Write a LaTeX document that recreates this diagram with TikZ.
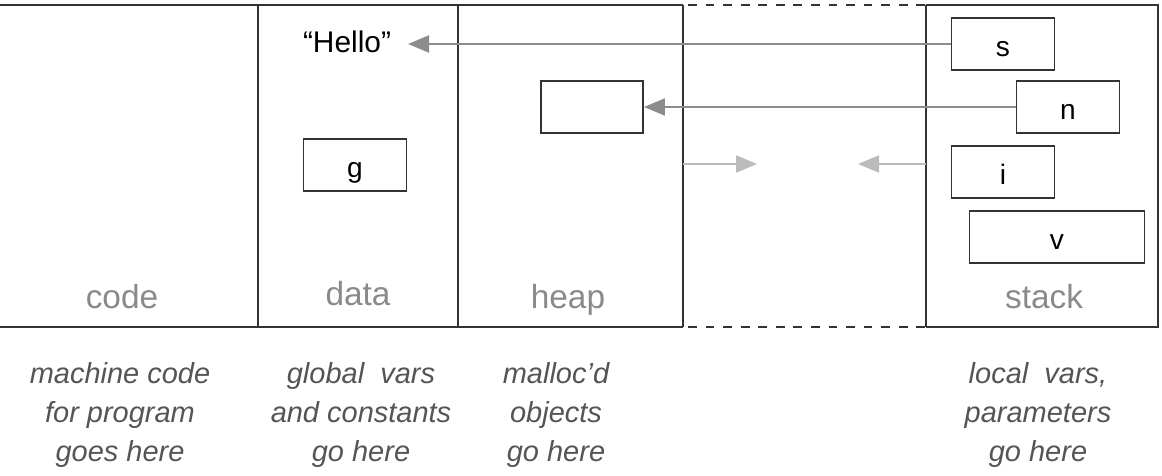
\documentclass[tikz,border=0pt]{standalone}
\usepackage{fontspec}
\setmainfont{Liberation Sans}
\usetikzlibrary{arrows.meta}
\definecolor{framegray}{HTML}{333333}
\definecolor{labelgray}{HTML}{8A8A8A}
\definecolor{ptrgray}{HTML}{8C8C8C}
\definecolor{growgray}{HTML}{BBBBBB}
\definecolor{notegray}{HTML}{555555}
\begin{document}
\begin{tikzpicture}[x=0.02cm,y=-0.02cm,
    frameline/.style={draw=framegray,line width=1.5pt},
    var/.style={draw=framegray,line width=1.1pt,minimum width=2.06cm,minimum height=1.04cm,text height=14.2pt,text depth=0pt,font=\fontsize{16}{19}\selectfont},
    seg/.style={text=labelgray,anchor=base,font=\fontsize{19}{22}\selectfont},
    note/.style={text=notegray,align=center,font=\fontsize{16.5}{22}\selectfont\itshape},
    ptr/.style={draw=ptrgray,line width=1.1pt,-{Triangle[length=0.42cm,width=0.34cm]}},
    growarrow/.style={draw=growgray,line width=1.1pt,-{Triangle[length=0.42cm,width=0.34cm]}}]
    \useasboundingbox (0,0) rectangle (1162,476);

    \draw[frameline] (0,5) -- (683,5);
    \draw[frameline] (0,327) -- (683,327);
    \draw[frameline,dash pattern=on 5pt off 5pt] (688,5) -- (926,5);
    \draw[frameline,dash pattern=on 5pt off 5pt] (688,327) -- (926,327);
    \draw[frameline] (926,5) -- (1158,5) -- (1158,327) -- (926,327);
    \draw[frameline] (258,5) -- (258,327);
    \draw[frameline] (458,5) -- (458,327);
    \draw[frameline] (683,5) -- (683,327);
    \draw[frameline] (926,5) -- (926,327);

    \node[seg] (code) at (122,308) {code};
    \node[seg] (data) at (358,305) {data};
    \node[seg] (heap) at (568,308) {heap};
    \node[seg] (stack) at (1044,308) {stack};

    \node[anchor=base,font=\fontsize{17}{20}\selectfont] (hello) at (347,53) {``Hello''};
    \node[var] (g) at (355,165) {g};
    \node[var,minimum width=2.04cm] (obj) at (592,107) {};

    \node[var] (s) at (1003,44) {s};
    \node[var] (n) at (1068,107) {n};
    \node[var] (i) at (1003,172) {i};
    \node[var,minimum width=3.5cm] (v) at (1057,237) {v};

    \draw[ptr] (s.west) -- (s.west -| 408,0);
    \draw[ptr] (n.west) -- (obj.east);

    \coordinate (heapedge) at (683,164);
    \coordinate (heapgrow) at (757,164);
    \coordinate (stackedge) at (926,164);
    \coordinate (stackgrow) at (858,164);
    \draw[growarrow] (heapedge) -- (heapgrow);
    \draw[growarrow] (stackedge) -- (stackgrow);

    \node[note] (codenote) at (120,415) {machine code\\for program\\goes here};
    \node[note] (datanote) at (361,415) {global\ \ vars\\and constants\\go here};
    \node[note] (heapnote) at (556,415) {malloc'd\\objects\\go here};
    \node[note] (stacknote) at (1038,415) {local\ \ vars,\\parameters\\go here};
\end{tikzpicture}
\end{document}
